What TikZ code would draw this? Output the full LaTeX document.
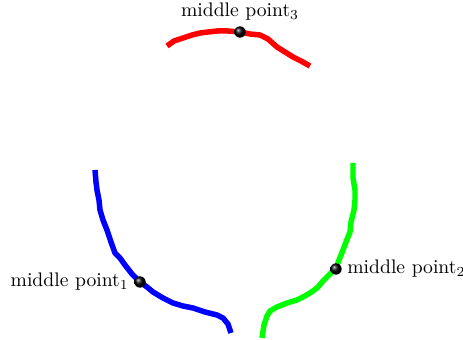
\documentclass[tikz,border=0pt]{standalone}
\usetikzlibrary{positioning}

\begin{document}
\begin{tikzpicture}[
  x=0.0179cm,y=-0.0179cm,
  trace/.style={line width=2.8pt,line join=round},
  midpt/.style={circle,inner sep=0pt,minimum size=5.8pt,ball color=black},
  lbl/.style={inner sep=2.5pt}
]
  \useasboundingbox (0,0) rectangle (463,340);

  % the three curves
  \draw[trace,blue] plot coordinates {(95,170) (96,182) (97,190) (99,200) (100,210)
    (103,220) (107,230) (111,242) (115,253) (120,258) (125,265) (132,274) (140,282)
    (147,287) (153,292) (163,298) (173,303) (183,306) (193,308) (205,312) (217,315)
    (223,318) (228,324) (231,333)};
  \draw[trace,green] plot coordinates {(353,163) (353,178) (355,190) (355,200) (354,210)
    (351,222) (350,232) (346,242) (343,250) (339,260) (336,268) (329,275) (323,281)
    (318,287) (313,291) (305,296) (297,300) (287,303) (277,307) (270,311) (267,316)
    (264,325) (262,338)};
  \draw[trace,red] plot coordinates {(167,46) (174,41) (183,38) (192,35) (200,33)
    (208,32) (217,31) (228,31) (240,32) (250,34) (260,35) (268,39) (277,47)
    (285,52) (293,57) (301,61) (310,66)};

  % middle points
  \node[midpt] (mid1) at (140,282) {};
  \node[midpt] (mid2) at (336,269) {};
  \node[midpt] (mid3) at (240,32) {};

  \node[lbl,left=0pt of mid1] {middle point$_1$};
  \node[lbl,right=0pt of mid2] {middle point$_2$};
  \node[lbl,above=0pt of mid3] {middle point$_3$};
\end{tikzpicture}
\end{document}
